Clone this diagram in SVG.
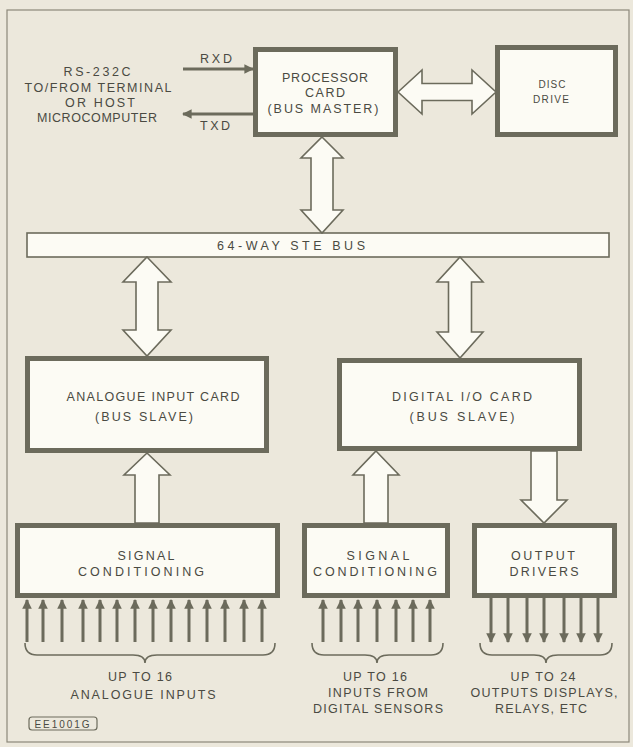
<svg xmlns="http://www.w3.org/2000/svg" width="633" height="747" viewBox="0 0 633 747">
<style>
.bg{fill:#ece8dc}
.frame{fill:none;stroke:#8c887a;stroke-width:1.2}
.box{fill:#fcfbf4;stroke:#6c6b5c;stroke-width:5}
.bus{fill:#fcfbf4;stroke:#6c6b5c;stroke-width:1.6}
.fat{fill:#fcfbf4;stroke:#6c6b5c;stroke-width:1.6;stroke-linejoin:miter}
.sig{stroke:#6c6b5c;stroke-width:3;fill:none}
.brace{stroke:#6c6b5c;stroke-width:1.6;fill:none}
text{font-family:"Liberation Sans","DejaVu Sans",sans-serif;font-size:12.5px;fill:#4a4a42}
.s{font-size:10px}
</style>
<defs>
<marker id="ah" viewBox="0 0 10 10" refX="9" refY="5" markerWidth="3.3" markerHeight="3.2" orient="auto" markerUnits="strokeWidth">
<path d="M0,0 L10,5 L0,10 z" fill="#6c6b5c"/>
</marker>
</defs>
<rect class="bg" x="0" y="0" width="633" height="747"/>
<rect class="frame" x="7" y="10" width="622" height="732"/>

<g id="rs232-label">
<text x="97" y="76" text-anchor="middle" textLength="67" lengthAdjust="spacing">RS-232C</text>
<text x="98" y="92" text-anchor="middle" textLength="147" lengthAdjust="spacing">TO/FROM TERMINAL</text>
<text x="100" y="107" text-anchor="middle" textLength="70" lengthAdjust="spacing">OR HOST</text>
<text x="97" y="122" text-anchor="middle" textLength="120" lengthAdjust="spacing">MICROCOMPUTER</text>
</g>

<g id="processor">
<rect class="box" x="255.5" y="49.5" width="140" height="85"/>
<text x="325" y="82" text-anchor="middle" textLength="86" lengthAdjust="spacing">PROCESSOR</text>
<text x="325" y="97" text-anchor="middle" textLength="40" lengthAdjust="spacing">CARD</text>
<text x="323" y="113" text-anchor="middle" textLength="111" lengthAdjust="spacing">(BUS MASTER)</text>
</g>

<g id="disc">
<rect class="box" x="497.5" y="47.5" width="118" height="87"/>
<text class="s" x="552" y="88" text-anchor="middle" textLength="27" lengthAdjust="spacing">DISC</text>
<text class="s" x="551" y="103" text-anchor="middle" textLength="36" lengthAdjust="spacing">DRIVE</text>
</g>

<g id="bus">
<rect class="bus" x="27" y="233" width="582" height="24"/>
<text x="291" y="250" text-anchor="middle" textLength="148" lengthAdjust="spacing">64-WAY STE BUS</text>
</g>

<g id="analogue-card">
<rect class="box" x="27.5" y="358.5" width="239" height="92"/>
<text x="153" y="401" text-anchor="middle" textLength="173" lengthAdjust="spacing">ANALOGUE INPUT CARD</text>
<text x="144" y="421" text-anchor="middle" textLength="98" lengthAdjust="spacing">(BUS SLAVE)</text>
</g>

<g id="digital-card">
<rect class="box" x="339.5" y="360.5" width="240" height="88"/>
<text x="462" y="401" text-anchor="middle" textLength="140" lengthAdjust="spacing">DIGITAL I/O CARD</text>
<text x="462" y="421" text-anchor="middle" textLength="105" lengthAdjust="spacing">(BUS SLAVE)</text>
</g>

<g id="signal-cond-1">
<rect class="box" x="17.5" y="525.5" width="260" height="70"/>
<text x="146" y="560" text-anchor="middle" textLength="57" lengthAdjust="spacing">SIGNAL</text>
<text x="141" y="576" text-anchor="middle" textLength="126" lengthAdjust="spacing">CONDITIONING</text>
</g>

<g id="signal-cond-2">
<rect class="box" x="304.5" y="525.5" width="143" height="70"/>
<text x="378" y="560" text-anchor="middle" textLength="63" lengthAdjust="spacing">SIGNAL</text>
<text x="375" y="576" text-anchor="middle" textLength="124" lengthAdjust="spacing">CONDITIONING</text>
</g>

<g id="output-drivers">
<rect class="box" x="474.5" y="525.5" width="140" height="70"/>
<text x="543" y="560" text-anchor="middle" textLength="64" lengthAdjust="spacing">OUTPUT</text>
<text x="544" y="576" text-anchor="middle" textLength="69" lengthAdjust="spacing">DRIVERS</text>
</g>

<g id="labels">
<text x="216" y="63" text-anchor="middle" textLength="32" lengthAdjust="spacing">RXD</text>
<text x="215" y="130" text-anchor="middle" textLength="30" lengthAdjust="spacing">TXD</text>
<text x="140" y="681" text-anchor="middle" textLength="64" lengthAdjust="spacing">UP TO 16</text>
<text x="143" y="699" text-anchor="middle" textLength="145" lengthAdjust="spacing">ANALOGUE INPUTS</text>
<text x="375" y="681" text-anchor="middle" textLength="64" lengthAdjust="spacing">UP TO 16</text>
<text x="378" y="697" text-anchor="middle" textLength="100" lengthAdjust="spacing">INPUTS FROM</text>
<text x="378" y="713" text-anchor="middle" textLength="130" lengthAdjust="spacing">DIGITAL SENSORS</text>
<text x="543" y="681" text-anchor="middle" textLength="65" lengthAdjust="spacing">UP TO 24</text>
<text x="544" y="697" text-anchor="middle" textLength="147" lengthAdjust="spacing">OUTPUTS DISPLAYS,</text>
<text x="541" y="713" text-anchor="middle" textLength="92" lengthAdjust="spacing">RELAYS, ETC</text>
</g>

<g id="ref-tag">
<rect x="29" y="717" width="68" height="13" rx="3" fill="none" stroke="#6c6b5c" stroke-width="1.2"/>
<text class="s" x="62" y="727.5" text-anchor="middle" textLength="55" lengthAdjust="spacing">EE1001G</text>
</g>

<g id="connectors">
<polygon class="fat" points="398,92 422,70 422,83.5 472,83.5 472,70 496,92 472,114 472,100.5 422,100.5 422,114"/>
<polygon class="fat" points="322,137 343,158 333,158 333,210 343,210 322,233 301,210 311,210 311,158 301,158"/>
<polygon class="fat" points="147,257 171,282 158,282 158,330 171,330 147,356 123,330 136,330 136,282 123,282"/>
<polygon class="fat" points="460,257 483,282 471.5,282 471.5,332 483,332 460,358 437,332 448.5,332 448.5,282 437,282"/>
<polygon class="fat" points="147,453 170,475 159,475 159,523 135,523 135,475 124,475"/>
<polygon class="fat" points="376,451 399,475 388,475 388,523 364,523 364,475 353,475"/>
<polygon class="fat" points="531,451 557,451 557,500 567,500 544,523 521,500 531,500"/>
<line class="sig" x1="183" y1="69" x2="253" y2="69" marker-end="url(#ah)"/>
<line class="sig" x1="253" y1="114" x2="183" y2="114" marker-end="url(#ah)"/>
<g class="sig">
<line x1="27" y1="642" x2="27" y2="600" marker-end="url(#ah)"/>
<line x1="43" y1="642" x2="43" y2="600" marker-end="url(#ah)"/>
<line x1="62" y1="642" x2="62" y2="600" marker-end="url(#ah)"/>
<line x1="83" y1="642" x2="83" y2="600" marker-end="url(#ah)"/>
<line x1="100" y1="642" x2="100" y2="600" marker-end="url(#ah)"/>
<line x1="117" y1="642" x2="117" y2="600" marker-end="url(#ah)"/>
<line x1="135" y1="642" x2="135" y2="600" marker-end="url(#ah)"/>
<line x1="153" y1="642" x2="153" y2="600" marker-end="url(#ah)"/>
<line x1="171" y1="642" x2="171" y2="600" marker-end="url(#ah)"/>
<line x1="189" y1="642" x2="189" y2="600" marker-end="url(#ah)"/>
<line x1="207" y1="642" x2="207" y2="600" marker-end="url(#ah)"/>
<line x1="225" y1="642" x2="225" y2="600" marker-end="url(#ah)"/>
<line x1="244" y1="642" x2="244" y2="600" marker-end="url(#ah)"/>
<line x1="262" y1="642" x2="262" y2="600" marker-end="url(#ah)"/>
<line x1="323" y1="642" x2="323" y2="600" marker-end="url(#ah)"/>
<line x1="341" y1="642" x2="341" y2="600" marker-end="url(#ah)"/>
<line x1="358" y1="642" x2="358" y2="600" marker-end="url(#ah)"/>
<line x1="377" y1="642" x2="377" y2="600" marker-end="url(#ah)"/>
<line x1="396" y1="642" x2="396" y2="600" marker-end="url(#ah)"/>
<line x1="413" y1="642" x2="413" y2="600" marker-end="url(#ah)"/>
<line x1="430" y1="642" x2="430" y2="600" marker-end="url(#ah)"/>
<line x1="491" y1="598" x2="491" y2="642" marker-end="url(#ah)"/>
<line x1="508" y1="598" x2="508" y2="642" marker-end="url(#ah)"/>
<line x1="527" y1="598" x2="527" y2="642" marker-end="url(#ah)"/>
<line x1="544" y1="598" x2="544" y2="642" marker-end="url(#ah)"/>
<line x1="564" y1="598" x2="564" y2="642" marker-end="url(#ah)"/>
<line x1="581" y1="598" x2="581" y2="642" marker-end="url(#ah)"/>
<line x1="598" y1="598" x2="598" y2="642" marker-end="url(#ah)"/>
</g>
<path class="brace" d="M25,643 Q25,655 37,655 L133,655 Q145,655 145,663 Q145,655 157,655 L263,655 Q275,655 275,643"/>
<path class="brace" d="M312,643 Q312,655 324,655 L365,655 Q377,655 377,663 Q377,655 389,655 L431,655 Q443,655 443,643"/>
<path class="brace" d="M480,643 Q480,655 492,655 L534,655 Q546,655 546,663 Q546,655 558,655 L600,655 Q612,655 612,643"/>
</g>
</svg>
